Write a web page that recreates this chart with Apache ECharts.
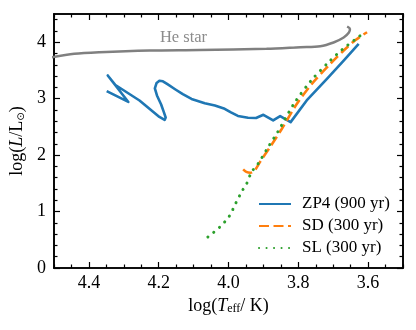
<!DOCTYPE html>
<html><head><meta charset="utf-8">
<script src="https://cdn.jsdelivr.net/npm/echarts@6/dist/echarts.min.js"></script>
<style>html,body{margin:0;padding:0;background:#fff}#c{width:416px;height:330px}</style>
</head><body><div id="c"></div>
<script>
// ---- data (log Teff, log L) ----
const heStarT = [4.51, 4.442, 4.370, 4.226, 4.083, 3.891, 3.794, 3.737, 3.699, 3.670, 3.655, 3.652, 3.660];
const heStarL = [3.728, 3.795, 3.823, 3.853, 3.862, 3.883, 3.912, 3.929, 3.995, 4.083, 4.172, 4.234, 4.278];

const zp4T = [4.349, 4.287, 4.346, 4.324, 4.255, 4.198, 4.183, 4.180, 4.185, 4.193, 4.205, 4.211, 4.206, 4.198, 4.188, 4.175, 4.152, 4.131, 4.106, 4.068, 4.039, 4.011, 3.993, 3.973, 3.944, 3.921, 3.900, 3.872, 3.852, 3.822, 3.776, 3.718, 3.670, 3.627];
const zp4L = [3.133, 2.942, 3.411, 3.242, 2.968, 2.676, 2.623, 2.667, 2.756, 2.897, 3.057, 3.181, 3.278, 3.317, 3.308, 3.257, 3.163, 3.080, 2.995, 2.920, 2.880, 2.821, 2.756, 2.694, 2.662, 2.658, 2.715, 2.614, 2.690, 2.584, 2.968, 3.352, 3.676, 3.972];

const sdT = [3.958, 3.949, 3.937, 3.926, 3.910, 3.881, 3.847, 3.804, 3.757, 3.708, 3.670, 3.636, 3.603];
const sdL = [1.747, 1.703, 1.688, 1.720, 1.876, 2.142, 2.467, 2.910, 3.292, 3.618, 3.853, 4.039, 4.177];

const slT = [4.059, 4.025, 3.998, 3.979, 3.960, 3.948, 3.934, 3.915, 3.887, 3.858, 3.812, 3.763, 3.714, 3.674, 3.622];
const slL = [0.549, 0.726, 0.915, 1.150, 1.375, 1.494, 1.699, 1.848, 2.136, 2.420, 2.915, 3.322, 3.641, 3.871, 4.119];

const seriesNames = ['ZP4 (900 yr)', 'SD (300 yr)', 'SL (300 yr)'];
const heStarLabel = 'He star';
const heStarLabelPos = [4.129, 4.083];

const xMajor = [3.6, 3.8, 4.0, 4.2, 4.4];
const xMinor = [3.5, 3.55, 3.65, 3.7, 3.75, 3.85, 3.9, 3.95, 4.05, 4.1, 4.15, 4.25, 4.3, 4.35, 4.45, 4.5];
const yMajor = [0, 1, 2, 3, 4];
const yMinor = [0.2, 0.4, 0.6, 0.8, 1.2, 1.4, 1.6, 1.8, 2.2, 2.4, 2.6, 2.8, 3.2, 3.4, 3.6, 3.8, 4.2, 4.4];

const pair = (a, b) => a.map((v, i) => [v, b[i]]);
const FONT = 'Liberation Serif';
const richName = {
  a: {fontFamily: FONT, fontSize: 18, color: '#000'},
  i: {fontFamily: FONT, fontSize: 18, fontStyle: 'italic', color: '#000'},
  s: {fontFamily: FONT, fontSize: 12, color: '#000', verticalAlign: 'bottom', padding: [6, 0, 0, 0]},
  o: {fontFamily: 'DejaVu Sans', fontSize: 10, color: '#000', verticalAlign: 'bottom', padding: [6, 0, 0, 0]}
};

function axis(dim, pos, vals, len, withLabels, extra) {
  const base = {
    type: 'value', position: pos,
    min: dim === 'x' ? 3.5 : 0, max: dim === 'x' ? 4.5 : 4.5,
    inverse: dim === 'x',
    axisLine: {show: true, onZero: false, lineStyle: {color: '#000', width: 1.6}},
    axisTick: {show: true, inside: true, length: len, customValues: vals, lineStyle: {color: '#000', width: 1.2}},
    axisLabel: {show: withLabels, customValues: vals, fontFamily: FONT, fontSize: 18, color: '#000',
      margin: dim === 'x' ? 6 : 8, formatter: v => dim === 'x' ? Number(v).toFixed(1) : String(v)},
    splitLine: {show: false}
  };
  return Object.assign(base, extra || {});
}

const chart = echarts.init(document.getElementById('c'), null, {renderer: 'canvas'});
chart.setOption({
  animation: false,
  backgroundColor: '#fff',
  grid: {left: 54, right: 13, top: 14, bottom: 62, containLabel: false, outerBoundsMode: 'none'},
  xAxis: [
    axis('x', 'bottom', xMajor, 6, true, {
      name: '{a|log(}{i|T}{s|eff}{a|/ K)}', nameLocation: 'middle', nameGap: 27,
      nameTextStyle: {rich: richName}
    }),
    axis('x', 'bottom', xMinor, 3.5, false),
    axis('x', 'top', xMajor, 6, false),
    axis('x', 'top', xMinor, 3.5, false)
  ],
  yAxis: [
    axis('y', 'left', yMajor, 6, true, {
      name: '{a|log(}{i|L}{a|/L}{o|⊙}{a|)}', nameLocation: 'middle', nameGap: 24, nameRotate: 90,
      nameTextStyle: {rich: richName}
    }),
    axis('y', 'left', yMinor, 3.5, false),
    axis('y', 'right', yMajor, 6, false),
    axis('y', 'right', yMinor, 3.5, false)
  ],
  legend: {
    data: seriesNames, orient: 'vertical', left: 258, top: 195, padding: 0,
    itemWidth: 32, itemHeight: 14, itemGap: 4,
    itemStyle: {opacity: 0, color: 'rgba(0,0,0,0)', borderWidth: 0},
    textStyle: {fontFamily: FONT, fontSize: 17, color: '#000', padding: [0, 0, 0, 6], lineHeight: 18},
    inactiveColor: '#ccc'
  },
  series: [
    {name: 'He star', type: 'line', data: pair(heStarT, heStarL), showSymbol: false, symbol: 'none', smooth: 0.3,
      lineStyle: {color: '#808080', width: 2.5}, itemStyle: {color: '#808080'}, clip: true,
      markPoint: {symbol: 'circle', symbolSize: 1, itemStyle: {color: 'rgba(0,0,0,0)'},
        label: {show: true, position: 'inside', formatter: heStarLabel, fontFamily: FONT, fontSize: 16.5, color: '#8c8c8c'},
        data: [{coord: heStarLabelPos}]}},
    {name: seriesNames[0], type: 'line', data: pair(zp4T, zp4L), showSymbol: false, symbol: 'none',
      lineStyle: {color: '#1f77b4', width: 2.6, join: 'round'}, itemStyle: {color: '#1f77b4'}},
    {name: seriesNames[1], type: 'line', data: pair(sdT, sdL), showSymbol: false, symbol: 'none', smooth: 0.3,
      lineStyle: {color: '#ff7f0e', width: 2.6, type: [10, 4.5]}, itemStyle: {color: '#ff7f0e'}},
    {name: seriesNames[2], type: 'line', data: pair(slT, slL), showSymbol: false, symbol: 'none', smooth: 0.3,
      lineStyle: {color: '#2ca02c', width: 3, type: [0.1, 7.4], cap: 'round'}, itemStyle: {color: '#2ca02c'}}
  ]
});
</script></body></html>
